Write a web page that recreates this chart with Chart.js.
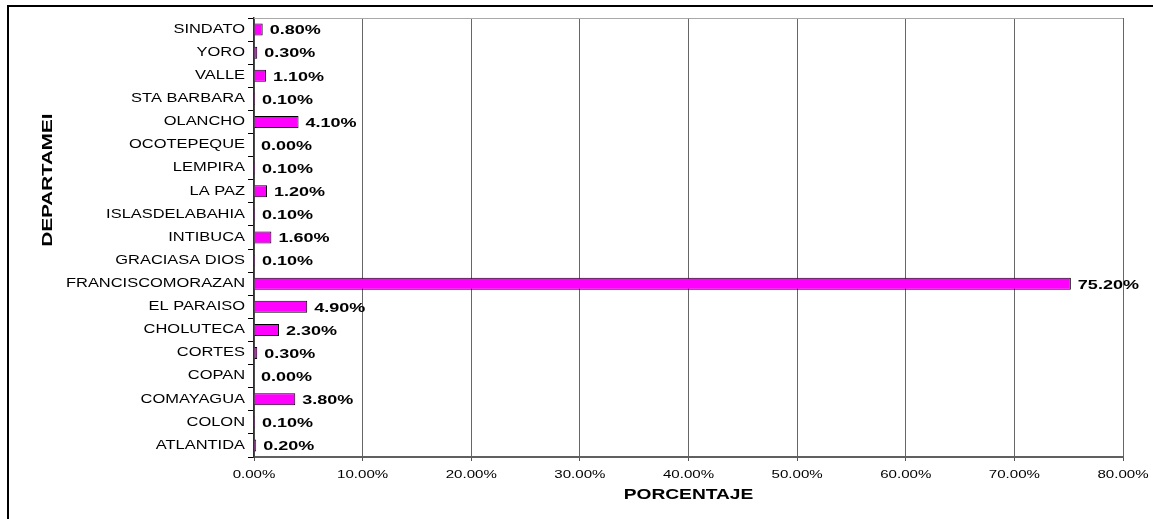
<!DOCTYPE html>
<html>
<head>
<meta charset="utf-8">
<script src="https://cdn.jsdelivr.net/npm/chart.js@4"></script>
<style>
  html, body { margin: 0; padding: 0; background: #fff; }
  canvas { display: block; }
</style>
</head>
<body>
<canvas id="c" width="1153" height="519"></canvas>
<script>
// ---- data (top to bottom as shown) ----
const categories = ["SINDATO", "YORO", "VALLE", "STA BARBARA", "OLANCHO", "OCOTEPEQUE", "LEMPIRA", "LA PAZ", "ISLASDELABAHIA", "INTIBUCA", "GRACIASA DIOS", "FRANCISCOMORAZAN", "EL PARAISO", "CHOLUTECA", "CORTES", "COPAN", "COMAYAGUA", "COLON", "ATLANTIDA"];
const percentages = [0.8, 0.3, 1.1, 0.1, 4.1, 0.0, 0.1, 1.2, 0.1, 1.6, 0.1, 75.2, 4.9, 2.3, 0.3, 0.0, 3.8, 0.1, 0.2];
const xTickValues = [0, 10, 20, 30, 40, 50, 60, 70, 80];
const xAxisTitle = "PORCENTAJE";
const yAxisTitle = "DEPARTAMEI";

// Wide (horizontally stretched) text rendering, as in the reference
const origFillText = CanvasRenderingContext2D.prototype.fillText;
CanvasRenderingContext2D.prototype.fillText = function (t, x, y) {
  const s = this.__stretch || 1;
  if (s === 1) return origFillText.call(this, t, x, y);
  this.save();
  this.translate(x, y);
  this.scale(s, 1);
  origFillText.call(this, t, 0, 0);
  this.restore();
};

const framePlugin = {
  id: 'frame',
  beforeDraw(chart) {
    const ctx = chart.ctx;
    ctx.save();
    ctx.fillStyle = '#fff';
    ctx.fillRect(0, 0, chart.width, chart.height);
    ctx.strokeStyle = '#000';
    ctx.lineWidth = 2;
    ctx.beginPath();
    ctx.moveTo(8, chart.height + 2);
    ctx.lineTo(8, 6);
    ctx.lineTo(chart.width + 2, 6);
    ctx.stroke();
    ctx.restore();
    ctx.__stretch = 1.37;
  },
  beforeDatasetsDraw(chart) {
    const {ctx, chartArea} = chart;
    ctx.save();
    ctx.strokeStyle = '#a8a8a8';
    ctx.lineWidth = 1;
    ctx.beginPath();
    ctx.moveTo(chartArea.left, chartArea.top + 0.5);
    ctx.lineTo(chartArea.right, chartArea.top + 0.5);
    ctx.stroke();
    ctx.restore();
  },
  afterDraw(chart) {
    const ctx = chart.ctx;
    // value labels
    const meta = chart.getDatasetMeta(0);
    ctx.save();
    ctx.__stretch = 1.5;
    ctx.font = 'bold 12px "Liberation Sans", Arial, sans-serif';
    ctx.fillStyle = '#000';
    ctx.textAlign = 'left';
    ctx.textBaseline = 'middle';
    meta.data.forEach((bar, i) => {
      ctx.fillText(percentages[i].toFixed(2) + '%', bar.x + 7, bar.y + 1.5);
    });
    // y axis title
    ctx.__stretch = 1.37;
    ctx.font = 'bold 15px "Liberation Sans", Arial, sans-serif';
    ctx.textAlign = 'center';
    ctx.translate(48, 180);
    ctx.rotate(-Math.PI / 2);
    ctx.fillText(yAxisTitle, 0, 0);
    ctx.restore();
    ctx.__stretch = 1;
  }
};

new Chart(document.getElementById('c'), {
  type: 'bar',
  data: {
    labels: categories,
    datasets: [{
      data: percentages,
      backgroundColor: '#FF00FF',
      borderColor: '#000',
      borderWidth: 1,
      barPercentage: 0.52,
      categoryPercentage: 1.0
    }]
  },
  options: {
    indexAxis: 'y',
    responsive: false,
    animation: false,
    devicePixelRatio: 1,
    layout: { padding: { top: 18, right: 30, left: 0, bottom: 0 } },
    plugins: { legend: { display: false }, tooltip: { enabled: false } },
    scales: {
      x: {
        min: 0, max: 80,
        afterBuildTicks: (s) => { s.ticks = xTickValues.map(v => ({ value: v })); },
        afterFit: (s) => { s.height = 62; },
        ticks: {
          color: '#000',
          font: { family: '"Liberation Sans", Arial, sans-serif', size: 11 },
          padding: 7,
          maxRotation: 0,
          callback: (v) => Number(v).toFixed(2) + '%'
        },
        grid: { color: '#666666', lineWidth: 1, tickLength: 4, tickColor: '#555555' },
        border: { color: '#606060', width: 2 },
        title: {
          display: true, text: xAxisTitle, color: '#000',
          font: { family: '"Liberation Sans", Arial, sans-serif', size: 14, weight: 'bold' },
          padding: { top: 0, bottom: 15 }
        }
      },
      y: {
        afterFit: (s) => { s.width = 254; },
        ticks: {
          color: '#000',
          font: { family: '"Liberation Sans", Arial, sans-serif', size: 12 },
          padding: 3,
          autoSkip: false
        },
        grid: { drawOnChartArea: false, offset: true, tickLength: 6, color: '#000', lineWidth: 1 },
        border: { color: '#303030', width: 1.5 }
      }
    }
  },
  plugins: [framePlugin]
});
</script>
</body>
</html>
